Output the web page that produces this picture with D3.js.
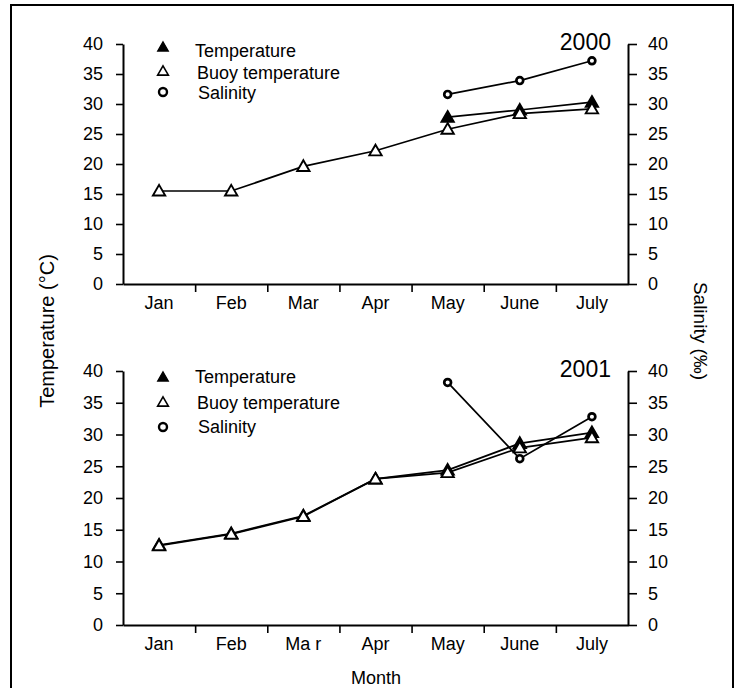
<!DOCTYPE html>
<html><head><meta charset="utf-8">
<script src="https://cdn.jsdelivr.net/npm/d3@7"></script>
<style>body{margin:0;background:#fff}svg{display:block}text{font-family:"Liberation Sans",Arial,Helvetica,sans-serif;fill:#000}</style>
</head><body><svg id="c" width="746" height="688"></svg>
<script>
const monthsTop = ["Jan","Feb","Mar","Apr","May","June","July"];
const monthsBottom = ["Jan","Feb","Ma r","Apr","May","June","July"];
const yTicks = [0,5,10,15,20,25,30,35,40];
const years = ["2000","2001"];
const legendLabels = ["Temperature","Buoy temperature","Salinity"];
// 2000
const buoy2000 = [15.5,15.5,19.6,22.2,25.8,28.4,29.2];
const temp2000 = [null,null,null,null,27.8,29.0,30.3];
const sal2000  = [null,null,null,null,31.6,33.9,37.2];
// 2001
const buoy2001 = [12.5,14.3,17.1,23.0,24.0,27.9,29.5];
const temp2001 = [12.6,14.4,17.2,23.0,24.4,28.6,30.3];
const sal2001  = [null,null,null,null,38.2,26.2,32.8];

const svg = d3.select("#c");
const FS = 18;
svg.append("rect").attr("x",11).attr("y",5).attr("width",722).attr("height",700)
  .attr("fill","none").attr("stroke","#000").attr("stroke-width",2);

const X0 = 123, X1 = 628;

function panel(cfg){
  const {yTop,yBot,months,buoy,temp,sal,year,lm,lt} = cfg;
  const y = d3.scaleLinear().domain([0,40]).range([yBot,yTop]);
  const xb = d3.scaleBand().domain(months).range([X0,X1]);
  const xi = d3.scaleLinear().domain([0,months.length]).range([X0,X1]);
  const g = svg.append("g");

  const la = g.append("g").attr("transform",`translate(${X0},0)`)
    .call(d3.axisLeft(y).tickValues(yTicks).tickSize(7).tickSizeOuter(0).tickPadding(13));
  const ra = g.append("g").attr("transform",`translate(${X1},0)`)
    .call(d3.axisRight(y).tickValues(yTicks).tickSize(9).tickSizeOuter(0).tickPadding(11));
  const xa = g.append("g").attr("transform",`translate(0,${yBot})`)
    .call(d3.axisBottom(xi).tickValues(d3.range(1,months.length)).tickSize(8).tickSizeOuter(0).tickFormat(""));
  const xl = g.append("g").attr("transform",`translate(0,${yBot})`)
    .call(d3.axisBottom(xb).tickSize(0).tickPadding(12));
  xl.select(".domain").remove();
  [la,ra,xa,xl].forEach(a=>{
    a.selectAll("text").attr("font-size",FS).style("font-family",'"Liberation Sans",Arial,sans-serif');
    a.selectAll(".domain").attr("stroke-width",2);
    a.selectAll(".tick line").attr("stroke-width",1.6);
  });

  const cx = (d,i)=> xb(months[i]) + xb.bandwidth()/2;
  const line = d3.line().defined(d=>d!=null).x((d,i)=>cx(d,i)).y(d=>y(d));
  const tri = d3.symbol().type(d3.symbolTriangle).size(66);

  function series(vals, fill, markerType){
    g.append("path").datum(vals).attr("d",line).attr("fill","none").attr("stroke","#000").attr("stroke-width",1.7);
    const pts = vals.map((v,i)=>({v,i})).filter(d=>d.v!=null);
    if(markerType==="tri"){
      g.selectAll(null).data(pts).enter().append("path")
        .attr("d",tri).attr("transform",d=>`translate(${cx(d.v,d.i)},${y(d.v)+1})`)
        .attr("fill",fill).attr("stroke","#000").attr("stroke-width",1.9);
    } else {
      g.selectAll(null).data(pts).enter().append("circle")
        .attr("cx",d=>cx(d.v,d.i)).attr("cy",d=>y(d.v)).attr("r",3.4)
        .attr("fill","#fff").attr("stroke","#000").attr("stroke-width",2.7);
    }
  }
  series(temp,"#000","tri");
  series(buoy,"#fff","tri");
  series(sal,"#fff","circ");

  g.append("text").attr("x",611).attr("y",yTop+6).attr("text-anchor","end").attr("font-size",23).text(year);

  const lg = g.append("g");
  const ltri = d3.symbol().type(d3.symbolTriangle).size(50);
  lg.append("path").attr("d",ltri).attr("transform",`translate(163,${yTop+lm[0]+1})`).attr("fill","#000").attr("stroke","#000").attr("stroke-width",1.2);
  lg.append("path").attr("d",ltri).attr("transform",`translate(163,${yTop+lm[1]+1})`).attr("fill","#fff").attr("stroke","#000").attr("stroke-width",1.6);
  lg.append("circle").attr("cx",163).attr("cy",yTop+lm[2]).attr("r",4).attr("fill","#fff").attr("stroke","#000").attr("stroke-width",2.4);
  const lx = [195,197,198];
  legendLabels.forEach((t,i)=>{
    lg.append("text").attr("x",lx[i]).attr("y",yTop+lt[i]).attr("font-size",FS).text(t);
  });
}

panel({yTop:44,yBot:284,months:monthsTop,buoy:buoy2000,temp:temp2000,sal:sal2000,year:years[0],lm:[3,27,48],lt:[13,35,55]});
panel({yTop:371,yBot:625,months:monthsBottom,buoy:buoy2001,temp:temp2001,sal:sal2001,year:years[1],lm:[6,31,56],lt:[12,38,62]});

svg.append("text").attr("transform","translate(54,331) rotate(-90)").attr("text-anchor","middle").attr("font-size",20).text("Temperature (°C)");
svg.append("text").attr("transform","translate(694,331) rotate(90)").attr("text-anchor","middle").attr("font-size",19).text("Salinity (‰)");
svg.append("text").attr("x",376).attr("y",684).attr("text-anchor","middle").attr("font-size",FS).text("Month");
</script></body></html>
